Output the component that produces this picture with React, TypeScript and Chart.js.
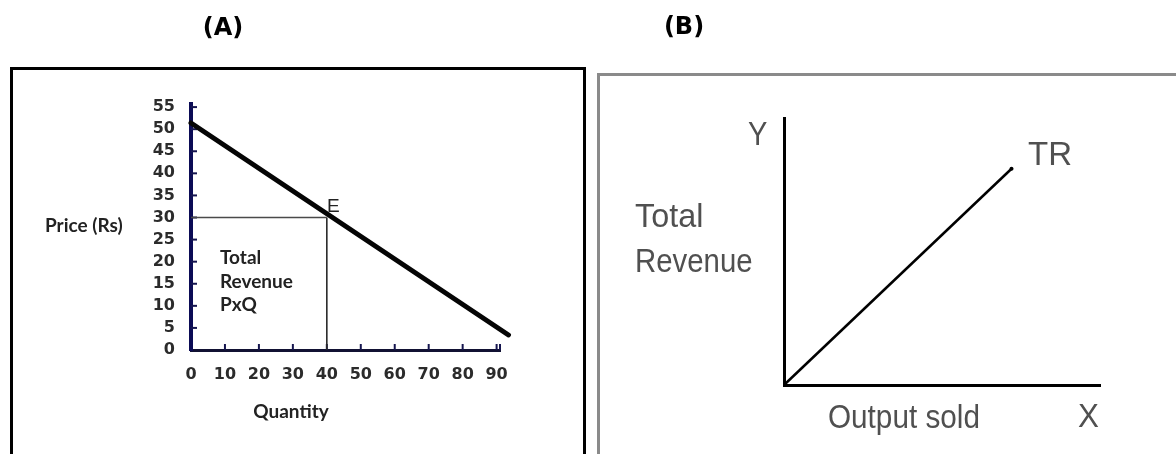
import React, { useEffect, useRef } from "react";
import { Chart, registerables } from "chart.js";

Chart.register(...registerables);

// ---------- Panel (A): demand curve and total revenue rectangle ----------
const quantityTicks = [0, 10, 20, 30, 40, 50, 60, 70, 80, 90];
const priceTicks = [0, 5, 10, 15, 20, 25, 30, 35, 40, 45, 50, 55];
const demandQuantity = [0, 93.5];
const demandPrice = [51.4, 3.4];
const equilibriumQuantity = 40;
const equilibriumPrice = 30;

// ---------- Panel (B): total revenue line ----------
const outputSold = [0, 72];
const totalRevenue = [0, 81];

type TextItem = {
  text: string;
  x: number;
  y: number;
  font: string;
  color: string;
  align?: CanvasTextAlign;
  scaleX?: number;
};

function makeTextPlugin(id: string, items: TextItem[]) {
  return {
    id,
    afterDraw(chart: any) {
      const ctx: CanvasRenderingContext2D = chart.ctx;
      items.forEach((it) => {
        ctx.save();
        ctx.font = it.font;
        ctx.fillStyle = it.color;
        ctx.textAlign = it.align || "left";
        ctx.textBaseline = "alphabetic";
        ctx.translate(it.x, it.y);
        ctx.scale(it.scaleX || 1, 1);
        ctx.fillText(it.text, 0, 0);
        ctx.restore();
      });
    },
  };
}

const insideTicksPlugin = {
  id: "insideTicks",
  beforeDatasetsDraw(chart: any) {
    const { ctx, chartArea: a, scales } = chart;
    const x = scales.x;
    const y = scales.y;
    ctx.save();
    ctx.lineWidth = 2;
    ctx.strokeStyle = "#15154f";
    const xs = x.ticks.map((t: any) => t.value).filter((v: number) => v > 0);
    xs.push(x.max);
    xs.forEach((v: number) => {
      const px = x.getPixelForValue(v);
      ctx.beginPath();
      ctx.moveTo(px, a.bottom);
      ctx.lineTo(px, a.bottom - 6);
      ctx.stroke();
    });
    y.ticks.forEach((t: any) => {
      if (t.value <= 0) return;
      const py = y.getPixelForValue(t.value);
      ctx.beginPath();
      ctx.moveTo(a.left, py);
      ctx.lineTo(a.left + 6, py);
      ctx.stroke();
    });
    ctx.restore();
  },
};

const tickFont = { family: "'DejaVu Sans'", weight: "bold" as const, size: 16 };
const labelFontA = "bold 19px Lato";
const labelFontB = "33px 'Liberation Sans'";
const titleFont = "bold 24px 'DejaVu Sans'";

export default function App() {
  const refA = useRef<HTMLCanvasElement | null>(null);
  const refB = useRef<HTMLCanvasElement | null>(null);

  useEffect(() => {
    if (!refA.current || !refB.current) return;

    const demandPoints = demandQuantity.map((q, i) => ({ x: q, y: demandPrice[i] }));

    const chartA = new Chart(refA.current, {
      type: "scatter",
      data: {
        datasets: [
          {
            data: demandPoints,
            showLine: true,
            borderColor: "#050505",
            borderWidth: 5,
            borderCapStyle: "round",
            pointRadius: 0,
            clip: false,
          },
          {
            data: [
              { x: 0, y: equilibriumPrice },
              { x: equilibriumQuantity, y: equilibriumPrice },
            ],
            showLine: true,
            borderColor: "#4a4a4a",
            borderWidth: 1.6,
            pointRadius: 0,
          },
          {
            data: [
              { x: equilibriumQuantity, y: equilibriumPrice },
              { x: equilibriumQuantity, y: 0 },
            ],
            showLine: true,
            borderColor: "#2a2a2a",
            borderWidth: 1.6,
            pointRadius: 0,
          },
        ],
      },
      options: {
        animation: false,
        responsive: false,
        layout: { padding: { top: 104, right: 90, left: 0, bottom: 0 } },
        plugins: { legend: { display: false }, tooltip: { enabled: false } },
        scales: {
          x: {
            type: "linear",
            min: 0,
            max: 91,
            afterBuildTicks: (s: any) => {
              s.ticks = quantityTicks.map((v) => ({ value: v }));
            },
            afterFit: (s: any) => {
              s.height = 104;
            },
            grid: { display: false, drawTicks: false },
            border: { display: true, color: "#111133", width: 3 },
            ticks: { padding: 15, font: tickFont, color: "#2b2b2b", autoSkip: false, maxRotation: 0 },
          },
          y: {
            type: "linear",
            min: 0,
            max: 55.7,
            afterBuildTicks: (s: any) => {
              s.ticks = priceTicks.map((v) => ({ value: v }));
            },
            afterFit: (s: any) => {
              s.width = 191;
            },
            grid: { display: false, drawTicks: false },
            border: { display: true, color: "#0b0b55", width: 4 },
            ticks: { padding: 16, font: tickFont, color: "#2b2b2b", autoSkip: false },
          },
        },
      },
      plugins: [
        insideTicksPlugin,
        makeTextPlugin("textA", [
          { text: "(A)", x: 223, y: 35, font: titleFont, color: "#000", align: "center" },
          { text: "Price (Rs)", x: 45, y: 232, font: labelFontA, color: "#222" },
          { text: "Total", x: 220, y: 264, font: labelFontA, color: "#222" },
          { text: "Revenue", x: 220, y: 288, font: labelFontA, color: "#222" },
          { text: "PxQ", x: 220, y: 311, font: labelFontA, color: "#222" },
          { text: "Quantity", x: 291, y: 418, font: labelFontA, color: "#222", align: "center" },
          { text: "E", x: 327, y: 212, font: "19px 'Liberation Sans'", color: "#222" },
        ]),
      ],
    } as any);

    const chartB = new Chart(refB.current, {
      type: "scatter",
      data: {
        datasets: [
          {
            data: outputSold.map((q, i) => ({ x: q, y: totalRevenue[i] })),
            showLine: true,
            borderColor: "#000",
            borderWidth: 2.5,
            pointRadius: [0, 2],
            pointBackgroundColor: "#000",
            pointBorderWidth: 0,
            clip: false,
          },
        ],
      },
      options: {
        animation: false,
        responsive: false,
        layout: { padding: { top: 118, right: 76, left: 0, bottom: 0 } },
        plugins: { legend: { display: false }, tooltip: { enabled: false } },
        scales: {
          x: {
            type: "linear",
            min: 0,
            max: 100,
            afterFit: (s: any) => {
              s.height = 69;
            },
            grid: { display: false, drawTicks: false },
            border: { display: true, color: "#000", width: 3 },
            ticks: { display: false },
          },
          y: {
            type: "linear",
            min: 0,
            max: 100,
            afterFit: (s: any) => {
              s.width = 194;
            },
            grid: { display: false, drawTicks: false },
            border: { display: true, color: "#000", width: 3 },
            ticks: { display: false },
          },
        },
      },
      plugins: [
        makeTextPlugin("textB", [
          { text: "(B)", x: 94, y: 34, font: titleFont, color: "#000", align: "center" },
          { text: "Y", x: 158, y: 145, font: labelFontB, color: "#505050", scaleX: 0.88 },
          { text: "TR", x: 438, y: 165, font: labelFontB, color: "#505050", scaleX: 1.0 },
          { text: "Total", x: 45, y: 227, font: labelFontB, color: "#505050", scaleX: 0.98 },
          { text: "Revenue", x: 45, y: 272, font: labelFontB, color: "#505050", scaleX: 0.89 },
          { text: "Output sold", x: 238, y: 428, font: labelFontB, color: "#505050", scaleX: 0.9 },
          { text: "X", x: 488, y: 427, font: labelFontB, color: "#505050", scaleX: 0.95 },
        ]),
      ],
    } as any);

    return () => {
      chartA.destroy();
      chartB.destroy();
    };
  }, []);

  return (
    <div
      style={{
        position: "fixed",
        left: 0,
        top: 0,
        width: 1176,
        height: 454,
        overflow: "hidden",
        background: "#fff",
      }}
    >
      <div
        style={{
          position: "absolute",
          left: 10,
          top: 67,
          width: 576,
          height: 420,
          boxSizing: "border-box",
          border: "3px solid #000",
        }}
      />
      <div
        style={{
          position: "absolute",
          left: 597,
          top: 73,
          width: 700,
          height: 420,
          boxSizing: "border-box",
          border: "3px solid #8a8a8a",
        }}
      />
      <canvas
        ref={refA}
        width={590}
        height={454}
        style={{ position: "absolute", left: 0, top: 0, width: 590, height: 454 }}
      />
      <canvas
        ref={refB}
        width={586}
        height={454}
        style={{ position: "absolute", left: 590, top: 0, width: 586, height: 454 }}
      />
    </div>
  );
}
